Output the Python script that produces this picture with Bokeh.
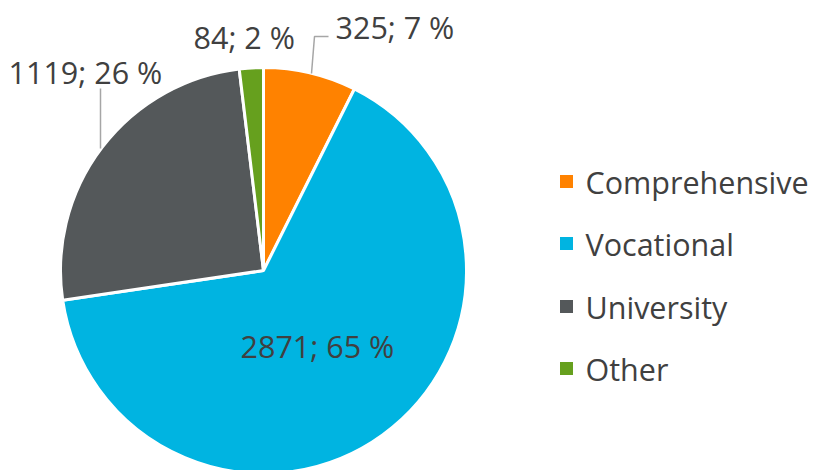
import math
from bokeh.plotting import figure
from bokeh.models import ColumnDataSource
from bokeh.core.properties import value
from bokeh.embed import file_html
from bokeh.resources import INLINE

categories = ["Comprehensive", "Vocational", "University", "Other"]
counts = [325, 2871, 1119, 84]
percents = [7, 65, 26, 2]
colors = ["#FF8200", "#00B4E1", "#54585A", "#66A01E"]

W, H = 812, 470
p = figure(width=W, height=H, x_range=(0, W), y_range=(0, H),
           output_backend="svg", toolbar_location=None, min_border=0)
p.axis.visible = False
p.grid.visible = False
p.outline_line_color = None
p.background_fill_color = "white"

def X(px):
    return px

def Y(py):
    return H - py

cx, cy, r = X(263), Y(270), 203
total = sum(counts)
starts, ends, cum = [], [], 0.0
for c in counts:
    starts.append(math.pi / 2 - 2 * math.pi * cum / total)
    cum += c
    ends.append(math.pi / 2 - 2 * math.pi * cum / total)

src = ColumnDataSource(dict(x=[cx] * 4, y=[cy] * 4, start=starts, end=ends, color=colors))
p.wedge(x="x", y="y", radius=r, start_angle="start", end_angle="end", direction="clock",
        fill_color="color", line_color="white", line_width=3, source=src)

labels = [f"{c}; {pc} %" for c, pc in zip(counts, percents)]
# label anchor positions (layout, page px)
lab_px = [(335, 26), (240, 345), (8, 71), (193, 36)]
p.text(x=[X(a) for a, b in lab_px], y=[Y(b) for a, b in lab_px], text=labels,
       text_font=value("Open Sans"), text_font_size="30.5px",
       text_color="#404040", text_baseline="middle", text_align="left")

# leader lines
p.line(x=[X(311), X(314), X(328)], y=[Y(73), Y(36), Y(36)], line_color="#A6A6A6", line_width=1.5)
p.line(x=[X(100), X(100)], y=[Y(148), Y(88)], line_color="#A6A6A6", line_width=1.5)

# legend
ys = [181, 243, 306, 368]
p.scatter(x=[X(566)] * 4, y=[Y(v) for v in ys], marker="square", size=13,
          fill_color=colors, line_color=None)
p.text(x=[X(585)] * 4, y=[Y(v) for v in ys], text=categories,
       text_font=value("Open Sans"), text_font_size="30.5px", text_color="#404040",
       text_baseline="middle", text_align="left")

open("out.html", "w").write(file_html(p, INLINE))
